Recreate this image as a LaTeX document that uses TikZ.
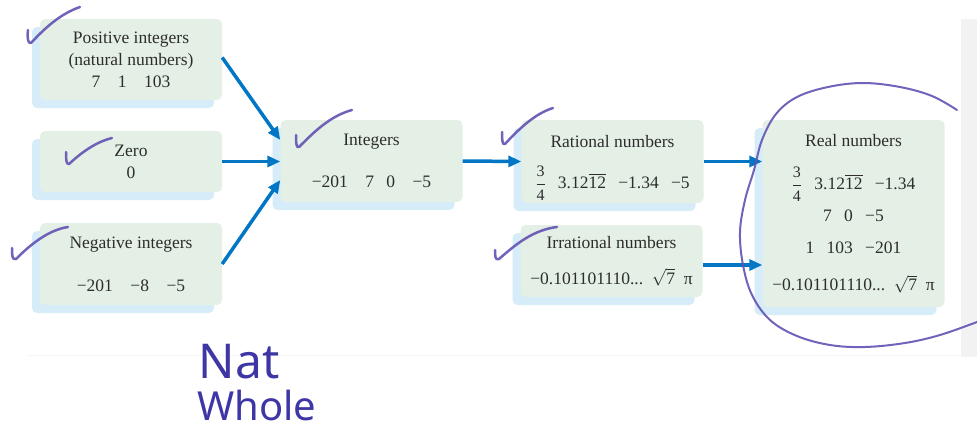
\documentclass[tikz,border=0pt]{standalone}
\usepackage{amsmath}
\usepackage{fontspec}
\setmainfont{Liberation Serif}
\newfontfamily\handfont{Noto Sans}
\usetikzlibrary{arrows.meta, shadows}
\definecolor{boxgreen}{RGB}{228,240,230}
\definecolor{shadowblue}{RGB}{214,236,249}
\definecolor{arrowblue}{RGB}{0,118,196}
\definecolor{checkpurple}{RGB}{98,82,178}
\definecolor{inkblue}{RGB}{62,54,165}
\definecolor{textgray}{RGB}{45,45,45}
\newcommand{\gap}{\hspace{0.7em}}
\newcommand{\smalldigit}[1]{\mbox{\fontsize{16}{16}\selectfont #1}}
\newcommand{\threequarters}{$\dfrac{\smalldigit{3}}{\smalldigit{4}}$}
\tikzstyle{numbox} = [rectangle, rounded corners=5pt, fill=boxgreen, text=textgray, align=center, minimum width=182pt, inner sep=2pt, font=\fontsize{17.5}{22}\selectfont, drop shadow={shadow xshift=-8pt, shadow yshift=-8pt, fill=shadowblue, opacity=1}]
\tikzstyle{arrow} = [line width=3.5pt, draw=arrowblue, -{Triangle[length=13pt,width=11pt]}]
\tikzstyle{checkmark} = [draw=checkpurple, line width=2.5pt, line cap=round, line join=round, opacity=.9]
\tikzstyle{handwriting} = [text=inkblue, font=\handfont\fontsize{40}{44}\selectfont]

\begin{document}
\begin{tikzpicture}[x=1pt, y=-1pt]
\useasboundingbox (0,0) rectangle (977,431);
\fill[gray!10] (961,19) rectangle (977,357);
\draw[gray!6] (27,355) -- (961,355);

\node (pos) [numbox, minimum height=81pt] at (131,59.5) {Positive integers\\(natural numbers)\\7\quad 1\quad 103};

\node (zero) [numbox, minimum height=61pt] at (131,161.5) {Zero\\0};

\node (neg) [numbox, minimum height=82pt] at (131,264) {Negative integers\\[21pt]−201\quad −8\quad −5};

\node (int) [numbox, minimum height=82pt] at (371.5,161) {Integers\\[20pt]−201\quad 7\gap 0\quad −5};

\node (rat) [numbox, minimum height=83pt] at (612.5,161.5) {\rule{0pt}{25pt}Rational numbers\\[17pt]\threequarters\gap 3.12$\overline{\text{12}}$\gap −1.34\gap −5};

\node (irr) [numbox, minimum height=72pt] at (611.5,261) {Irrational numbers\\[14pt]−0.101101110...\enspace$\sqrt{\text{7}}$\enspace π};

\node (real) [numbox, minimum height=187pt] at (853.5,213.5) {Real numbers\\[20pt]\threequarters\gap 3.12$\overline{\text{12}}$\gap −1.34\\[8pt]7\gap 0\gap −5\\[10pt]1\gap 103\gap −201\\[15pt]−0.101101110...\enspace$\sqrt{\text{7}}$\enspace π};

\draw [arrow] ([yshift=2pt]pos.east) -- ([yshift=21pt]int.west);
\draw [arrow] (zero.east) -- (zero.east -| int.west);
\draw [arrow] (neg.east) -- ([yshift=-19pt]int.west);
\draw [arrow] (int.east) -- (rat.west);
\draw [arrow] (rat.east) -- (rat.east -| real.west);
\draw [arrow] ([yshift=-4pt]irr.east) -- ([yshift=-4pt]irr.east -| real.west);

% pen marks
\draw [checkmark] (28,30) .. controls (27,38) and (28,44) .. (31,43) .. controls (45,28) and (60,14) .. (80,7);
\draw [checkmark] (66,152) .. controls (66,158) and (66,165) .. (69,164) .. controls (82,152) and (96,142) .. (112,138);
\draw [checkmark] (12,248) .. controls (12,254) and (12,261) .. (16,259) .. controls (30,245) and (48,230) .. (68,227);
\draw [checkmark] (296,135) .. controls (296,141) and (296,149) .. (299,147) .. controls (314,132) and (330,116) .. (352,110);
\draw [checkmark] (502,132) .. controls (502,138) and (502,146) .. (505,144) .. controls (518,130) and (534,114) .. (553,108);
\draw [checkmark] (495,250) .. controls (495,255) and (495,261) .. (499,259) .. controls (514,246) and (532,230) .. (557,227);
\draw [checkmark, line width=2pt] plot[smooth, tension=.6] coordinates {(957,110) (932,96) (900,87) (863,83) (828,87) (797,97) (776,114) (762,140) (754,170) (745,200) (740,232) (743,265) (752,295) (770,320) (797,336) (830,345) (865,347) (905,343) (940,335) (977,322)};

\node (nat) [handwriting, font=\handfont\fontsize{48}{50}\selectfont] at (239,362) {Nat};
\node (whole) [handwriting] at (257,405) {Whole};
\end{tikzpicture}
\end{document}
